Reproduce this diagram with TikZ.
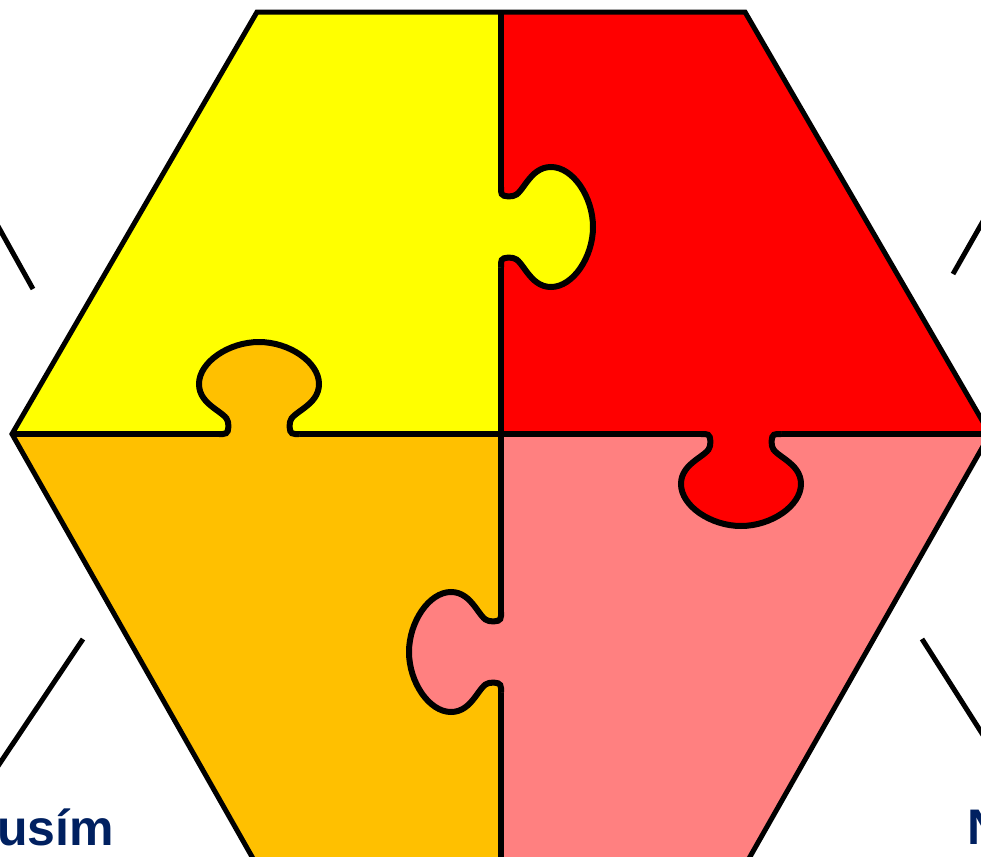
\documentclass[tikz,border=0pt]{standalone}
\usepackage{fontspec}
\setmainfont{Liberation Sans}

\definecolor{puzzleyellow}{RGB}{255,255,0}
\definecolor{puzzlered}{RGB}{255,0,0}
\definecolor{puzzleorange}{RGB}{255,192,0}
\definecolor{puzzlepink}{RGB}{255,128,128}
\definecolor{navytext}{RGB}{0,32,96}

% one knob, pointing along +v from a seam on v=0
\newcommand{\knobcurve}{(-40,0) -- (-36,0) .. controls (-31,0) and (-30,4) .. (-31,12)
  .. controls (-32,22) and (-60,28) .. (-60,50)
  .. controls (-60,72) and (-30,92) .. (0,92)
  .. controls (30,92) and (60,72) .. (60,50)
  .. controls (60,28) and (32,22) .. (31,12)
  .. controls (30,4) and (31,0) .. (36,0) -- (40,0)}

\begin{document}
\begin{tikzpicture}[x=0.5pt, y=-0.5pt,
    hexline/.style={line width=2.5pt, line join=miter},
    seamline/.style={line width=3pt},
    wordtext/.style={font=\bfseries\fontsize{25}{29}\selectfont, text=navytext, inner sep=0pt, anchor=base west},
    pics/knob/.style={code={
        \fill[#1] \knobcurve -- (40,-4) -- (-40,-4) -- cycle;
        \draw[seamline] \knobcurve;
    }}]
    \useasboundingbox (0,0) rectangle (981,857);
    \clip (0,0) rectangle (981,857);

    % hexagon corners
    \coordinate (tl) at (257,12);
    \coordinate (tr) at (745,12);
    \coordinate (rt) at (990,434);
    \coordinate (br) at (747,862);
    \coordinate (bl) at (255,862);
    \coordinate (lt) at (12,434);
    \coordinate (ctr) at (501,434);
    \coordinate (top) at (501,12);
    \coordinate (bot) at (501,862);

    % the four pieces
    \fill[puzzleyellow] (top) -- (tl) -- (lt) -- (ctr) -- cycle;
    \fill[puzzlered] (top) -- (tr) -- (rt) -- (ctr) -- cycle;
    \fill[puzzleorange] (ctr) -- (lt) -- (bl) -- (bot) -- cycle;
    \fill[puzzlepink] (ctr) -- (rt) -- (br) -- (bot) -- cycle;

    \draw[seamline] (top) -- (bot);
    \draw[seamline] (lt) -- (rt);

    \pic[rotate=90] at (501,227) {knob=puzzleyellow};
    \pic[rotate=180] at (259,434) {knob=puzzleorange};
    \pic at (741,434) {knob=puzzlered};
    \pic[rotate=-90] at (501,652) {knob=puzzlepink};

    \draw[hexline] (tl) -- (tr) -- (rt) -- (br) -- (bl) -- (lt) -- cycle;

    % lines running off the page
    \draw[hexline] (-6,219) -- (33,289);
    \draw[hexline] (83,639) -- (-8,775);
    \draw[hexline] (953,274) -- (990,209);
    \draw[hexline] (922,639) -- (990,746);

    \node[wordtext] (musim) at (-3,845) {usím};
    \node[wordtext] (nword) at (967,844) {N};
\end{tikzpicture}
\end{document}
